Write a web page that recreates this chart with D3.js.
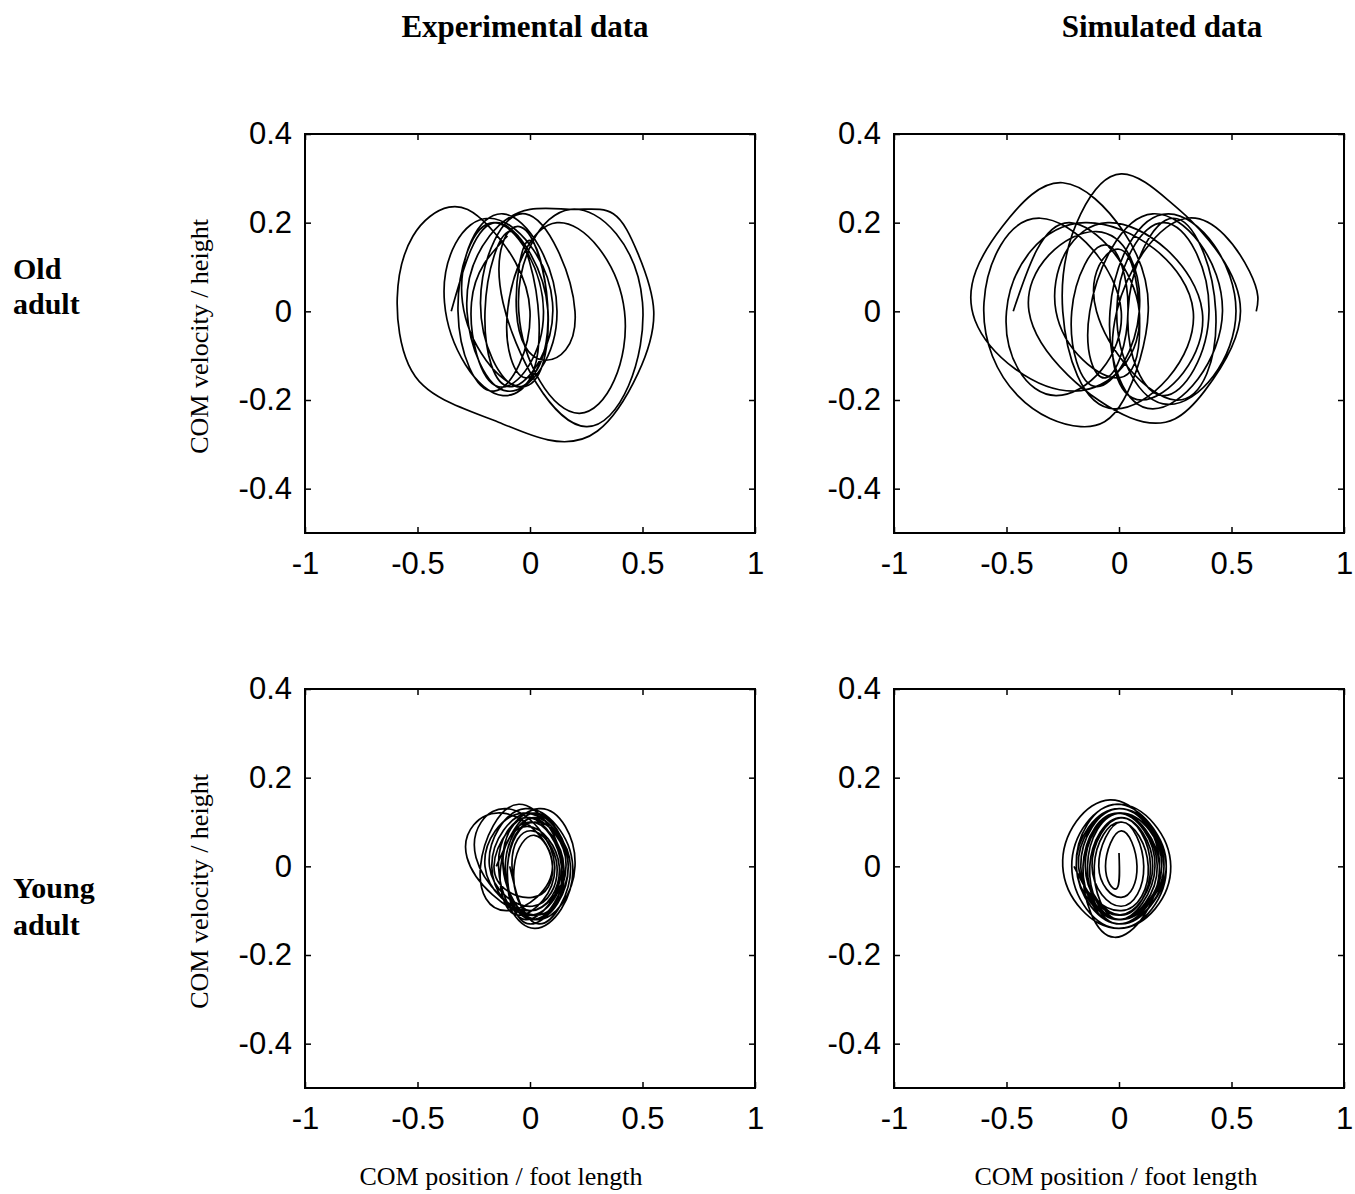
<!DOCTYPE html>
<html><head><meta charset="utf-8">
<script src="https://cdn.jsdelivr.net/npm/d3@7"></script>
<style>body{margin:0;background:#fff}</style>
</head><body>
<svg id="chart" width="1355" height="1194"></svg>
<script>
// ---------- data ----------
const xTicks = [-1, -0.5, 0, 0.5, 1];
const yTicks = [-0.4, -0.2, 0, 0.2, 0.4];
const columnTitles = ["Experimental data", "Simulated data"];
const rowLabels = [["Old", "adult"], ["Young", "adult"]];
const xTitle = "COM position / foot length";
const yTitle = "COM velocity / height";

// COM trajectories (position / foot length, velocity / height)
const oldExperimental = [
  [-0.35,0.00],[-0.15,0.20],[0.08,0.00],[-0.12,-0.19],
  [-0.38,0.02],[-0.18,0.21],[0.10,0.02],[-0.08,-0.17],
  [-0.20,0.00],[-0.08,0.18],[0.04,-0.02],[-0.06,-0.17],
  [-0.22,0.02],[-0.02,0.22],[0.20,0.00],[0.06,-0.11],
  [-0.06,0.00],[0.00,0.16],[0.08,-0.02],[-0.02,-0.15],
  [-0.10,0.00],[0.12,0.20],[0.42,0.00],[0.22,-0.23],
  [-0.05,0.00],[0.18,0.23],[0.50,0.02],[0.25,-0.26],
  [-0.12,0.02],[-0.04,0.19],[0.08,0.00],[-0.04,-0.17],
  [-0.30,0.02],[-0.12,0.22],[0.12,0.00],[-0.10,-0.18],
  [-0.28,0.00],[-0.18,0.17],[0.00,0.23],[0.20,0.23],[0.37,0.22],[0.48,0.13],[0.55,0.00],
  [0.48,-0.14],[0.30,-0.27],[0.08,-0.29],[-0.14,-0.25],[-0.38,-0.20],[-0.54,-0.12],
  [-0.59,0.03],[-0.52,0.17],[-0.36,0.235],[-0.18,0.19],
  [0.00,0.00],[-0.16,-0.18],
  [-0.32,0.00],[-0.16,0.20],[0.06,0.00],[-0.14,-0.17],
  [-0.26,0.02],[-0.10,0.17]
];
const oldSimulated = [
  [-0.47,0.00],[-0.22,0.20],[0.09,0.00],[-0.20,-0.18],
  [-0.64,-0.02],[-0.52,0.19],[-0.25,0.29],[0.02,0.18],[0.13,0.00],[0.02,-0.20],[-0.17,-0.26],[-0.45,-0.19],
  [-0.60,0.02],[-0.35,0.21],[0.01,0.00],[-0.28,-0.19],
  [-0.50,0.00],[-0.15,0.20],[0.33,0.00],[-0.02,-0.22],
  [-0.25,0.00],[-0.17,0.22],[0.01,0.31],[0.22,0.25],[0.40,0.16],[0.54,0.00],[0.38,-0.18],[0.05,-0.24],
  [-0.40,0.00],[-0.10,0.18],[0.09,0.00],[-0.10,-0.17],
  [-0.21,0.00],[-0.06,0.15],[0.04,0.00],[-0.06,-0.15],
  [-0.13,0.00],[0.15,0.22],[0.46,0.00],[0.15,-0.22],
  [-0.04,0.00],[0.22,0.22],[0.52,0.00],[0.22,-0.21],
  [-0.01,0.00],[0.20,0.20],[0.40,0.00],[0.20,-0.19],
  [0.04,0.00],[0.24,0.21],[0.43,0.00],[0.25,-0.20],
  [-0.10,0.00],[0.00,0.14],[0.09,0.00],[0.00,-0.15],
  [-0.28,0.00],[-0.05,0.20],[0.37,0.00],[0.10,-0.20],
  [-0.01,0.00],[0.30,0.21],[0.58,0.09],[0.61,0.00]
];
const youngExperimental = [
  [-0.15,0.00],[0.02,0.12],[0.17,0.00],[0.02,-0.12],
  [-0.12,0.01],[0.00,0.11],[0.15,-0.01],[0.00,-0.11],
  [-0.28,0.02],[-0.12,0.12],[0.10,0.00],[-0.10,-0.10],
  [-0.22,0.00],[-0.05,0.14],[0.14,0.00],[-0.02,-0.12],
  [-0.10,0.00],[0.02,0.10],[0.18,0.00],[0.04,-0.13],
  [-0.08,0.00],[0.01,0.08],[0.12,0.00],[0.01,-0.09],
  [-0.18,0.00],[-0.02,0.13],[0.19,0.00],[0.02,-0.14],
  [-0.14,0.00],[0.00,0.11],[0.16,0.00],[0.00,-0.10],
  [-0.07,0.00],[0.02,0.07],[0.10,0.00],[0.01,-0.07],
  [-0.16,0.00],[0.04,0.13],[0.20,0.00],[0.03,-0.12],
  [-0.12,0.00],[-0.01,0.09],[0.13,0.00],[0.00,-0.10],
  [-0.20,0.00],[-0.03,0.12],[0.17,0.00],[0.00,-0.13],
  [-0.10,0.00],[0.01,0.10],[0.14,0.00],[0.02,-0.11],
  [-0.24,0.02],[-0.10,0.13],[0.11,0.00],[-0.05,-0.11],
  [-0.13,0.00],[0.00,0.10],[0.15,0.00],[0.00,-0.11],
  [-0.17,0.00],[0.00,0.12],[0.17,0.00],[0.01,-0.12],
  [-0.11,0.00],[0.02,0.11],[0.16,0.00],[0.02,-0.12],
  [-0.09,0.00]
];
const youngSimulated = [
  [0.00,0.03],[-0.01,-0.05],
  [-0.06,0.00],[0.01,0.08],[0.08,0.00],[0.01,-0.07],
  [-0.09,0.00],[0.01,0.10],[0.11,0.00],[0.01,-0.09],
  [-0.12,0.00],[0.01,0.11],[0.14,0.00],[0.01,-0.11],
  [-0.15,0.00],[0.00,0.12],[0.17,0.00],[0.00,-0.12],
  [-0.17,0.00],[0.00,0.13],[0.19,0.00],[0.00,-0.13],
  [-0.14,0.00],[0.01,0.12],[0.20,0.00],[0.01,-0.13],
  [-0.19,0.00],[-0.01,0.14],[0.21,0.00],[0.00,-0.14],
  [-0.21,0.00],[0.00,0.14],[0.23,0.00],[0.00,-0.14],
  [-0.25,0.00],[-0.04,0.15],[0.18,0.00],[-0.02,-0.16],
  [-0.16,0.00],[0.00,0.12],[0.16,0.00],[0.00,-0.12],
  [-0.11,0.00],[0.01,0.10],[0.13,0.00],[0.01,-0.10],
  [-0.18,0.00],[0.00,0.13],[0.20,0.00],[0.00,-0.12],
  [-0.13,0.00],[0.01,0.11],[0.15,0.00],[0.00,-0.11],
  [-0.15,0.00],[0.00,0.12],[0.18,0.00],[0.01,-0.12],
  [-0.19,0.00],[0.00,0.13],[0.21,0.00],[0.00,-0.13],
  [-0.16,0.00],[0.01,0.12],[0.19,0.00],[0.00,-0.12],
  [-0.20,0.00]
];

// ---------- layout ----------
const W = 450, H = 399;
const panels = [
  {trace: oldExperimental,   x0: 305, y0: 134, showY: true,  showX: false},
  {trace: oldSimulated,      x0: 894, y0: 134, showY: false, showX: false},
  {trace: youngExperimental, x0: 305, y0: 689, showY: true,  showX: true, xtx: 501},
  {trace: youngSimulated,    x0: 894, y0: 689, showY: false, showX: true, xtx: 1116}
];

const svg = d3.select("#chart");
const x = d3.scaleLinear().domain([-1, 1]).range([0, W]);
const y = d3.scaleLinear().domain([-0.5, 0.4]).range([H, 0]);
const fmt = d => String(d);
const sansFont = "'Liberation Sans', Arial, Helvetica, sans-serif";
const serifFont = "'Liberation Serif', 'Times New Roman', Times, serif";

const line = d3.line().x(d => x(d[0])).y(d => y(d[1])).curve(d3.curveNatural);

panels.forEach(p => {
  const g = svg.append("g").attr("transform", `translate(${p.x0},${p.y0})`);

  g.append("path").datum(p.trace)
    .attr("d", line)
    .attr("fill", "none")
    .attr("stroke", "#000")
    .attr("stroke-width", 1.7)
    .attr("stroke-linejoin", "round");

  const bottom = g.append("g").attr("transform", `translate(0,${H})`)
    .call(d3.axisBottom(x).tickValues(xTicks).tickSize(-6).tickPadding(19).tickFormat(fmt));
  const top = g.append("g")
    .call(d3.axisTop(x).tickValues(xTicks).tickSize(-6).tickFormat(""));
  const left = g.append("g")
    .call(d3.axisLeft(y).tickValues(yTicks).tickSize(-6).tickPadding(13).tickFormat(fmt));
  const right = g.append("g").attr("transform", `translate(${W},0)`)
    .call(d3.axisRight(y).tickValues(yTicks).tickSize(-6).tickFormat(""));

  [bottom, top, left, right].forEach(a => {
    a.select(".domain").remove();
    a.selectAll("line").attr("stroke", "#000").attr("stroke-width", 1.5);
    a.selectAll("text").attr("font-family", sansFont).attr("font-size", 31).attr("fill", "#000");
  });

  g.append("rect").attr("x", 0).attr("y", 0).attr("width", W).attr("height", H)
    .attr("fill", "none").attr("stroke", "#000").attr("stroke-width", 2);

  if (p.showY) {
    svg.append("text")
      .attr("transform", `translate(${p.x0 - 97},${p.y0 + H / 2 + 3}) rotate(-90)`)
      .attr("text-anchor", "middle")
      .attr("font-family", serifFont).attr("font-size", 26)
      .text(yTitle);
  }
  if (p.showX) {
    svg.append("text")
      .attr("x", p.xtx).attr("y", p.y0 + H + 97)
      .attr("text-anchor", "middle")
      .attr("font-family", serifFont).attr("font-size", 26)
      .text(xTitle);
  }
});

const colCenters = [525, 1162];
columnTitles.forEach((t, i) => {
  svg.append("text").attr("x", colCenters[i]).attr("y", 37)
    .attr("text-anchor", "middle")
    .attr("font-family", serifFont).attr("font-weight", "bold").attr("font-size", 31)
    .text(t);
});

const rowBaselines = [[279, 314], [898, 935]];
rowLabels.forEach((lines, r) => {
  lines.forEach((t, k) => {
    svg.append("text").attr("x", 13).attr("y", rowBaselines[r][k])
      .attr("font-family", serifFont).attr("font-weight", "bold").attr("font-size", 30)
      .text(t);
  });
});
</script>
</body></html>
